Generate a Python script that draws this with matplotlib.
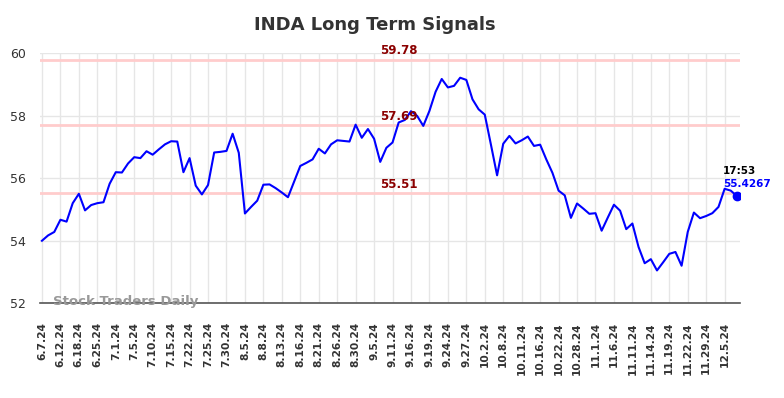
import matplotlib
matplotlib.use('Agg')
import matplotlib.pyplot as plt

# price values, one per trading point
prices = [
    54.0, 54.17, 54.28, 54.67, 54.61, 55.2, 55.5, 54.97, 55.14, 55.2,
    55.23, 55.82, 56.19, 56.18, 56.47, 56.67, 56.64, 56.86, 56.75, 56.92,
    57.08, 57.18, 57.17, 56.19, 56.64, 55.76, 55.48, 55.78, 56.82, 56.84,
    56.87, 57.42, 56.81, 54.87, 55.08, 55.28, 55.79, 55.8, 55.68, 55.54,
    55.39, 55.89, 56.39, 56.49, 56.6, 56.94, 56.79, 57.08, 57.21, 57.19,
    57.17, 57.71, 57.29, 57.57, 57.26, 56.52, 56.97, 57.14, 57.78, 57.86,
    58.14, 57.99, 57.67, 58.15, 58.76, 59.17, 58.9, 58.95, 59.21, 59.14,
    58.52, 58.2, 58.03, 57.07, 56.09, 57.1, 57.35, 57.11, 57.21, 57.33,
    57.03, 57.07, 56.6, 56.17, 55.6, 55.45, 54.73, 55.19, 55.03, 54.86,
    54.88, 54.32, 54.74, 55.15, 54.96, 54.37, 54.55, 53.8, 53.28, 53.41,
    53.05, 53.31, 53.58, 53.64, 53.2, 54.28, 54.9, 54.72, 54.79, 54.88,
    55.08, 55.66, 55.6, 55.4267,
]

tick_labels = [
    "6.7.24", "6.12.24", "6.18.24", "6.25.24", "7.1.24", "7.5.24", "7.10.24",
    "7.15.24", "7.22.24", "7.25.24", "7.30.24", "8.5.24", "8.8.24", "8.13.24",
    "8.16.24", "8.21.24", "8.26.24", "8.30.24", "9.5.24", "9.11.24", "9.16.24",
    "9.19.24", "9.24.24", "9.27.24", "10.2.24", "10.8.24", "10.11.24",
    "10.16.24", "10.22.24", "10.28.24", "11.1.24", "11.6.24", "11.11.24",
    "11.14.24", "11.19.24", "11.22.24", "11.29.24", "12.5.24",
]
tick_step = 3

signal_levels = [59.78, 57.69, 55.51]
last_time = "17:53"

x = list(range(len(prices)))
tick_pos = [i * tick_step for i in range(len(tick_labels))]

fig = plt.figure(figsize=(7.84, 3.98), dpi=100)
ax = fig.add_axes([0.0504, 0.238, 0.8935, 0.6288])

# 信号线
for lvl in signal_levels:
    ax.axhline(lvl, color='#ffcccc', linewidth=2, zorder=1)
    ax.text(58, lvl + 0.08, f"{lvl:.2f}", color='#8b0000', fontsize=8.5,
            fontweight='bold', ha='center', va='bottom', zorder=4)

ax.plot(x, prices, color='#0000ff', linewidth=1.5, zorder=3)
ax.plot(x[-1], prices[-1], 'o', color='#0000ff', markersize=6, zorder=4)

ax.annotate(last_time, xy=(x[-1], prices[-1]), xytext=(-10, 18),
            textcoords='offset points', ha='left', va='center',
            fontsize=7.5, fontweight='bold', color='black')
ax.annotate(f"{prices[-1]:.4f}", xy=(x[-1], prices[-1]), xytext=(-10, 8.4),
            textcoords='offset points', ha='left', va='center',
            fontsize=7.5, fontweight='bold', color='#0000ff')

ax.text(0.019, 0.007, "Stock Traders Daily", transform=ax.transAxes,
        fontsize=9.5, fontweight='bold', color='#999999', ha='left',
        va='center', zorder=5)

ax.set_xlim(-0.4, 113.5)
ax.set_ylim(52, 60)
ax.set_yticks([52, 54, 56, 58, 60])
ax.set_xticks(tick_pos)
ax.set_xticklabels(tick_labels, rotation=90, fontsize=7.7, fontweight='bold',
                   color='#333333', va='top', ha='center')
ax.tick_params(axis='x', length=0, pad=13.5)
ax.tick_params(axis='y', length=0, pad=10, labelsize=9, labelcolor='#333333')

ax.grid(True, color='#e6e6e6', linewidth=1)
ax.set_axisbelow(True)
for side in ['top', 'right', 'left']:
    ax.spines[side].set_visible(False)
ax.spines['bottom'].set_color('#555555')
ax.spines['bottom'].set_linewidth(1.2)

fig.text(375 / 784, 1 - 25.5 / 398, "INDA Long Term Signals", ha='center',
         va='center', fontsize=13, fontweight='bold', color='#333333')

plt.savefig('out.png', dpi=100)
plt.close()
